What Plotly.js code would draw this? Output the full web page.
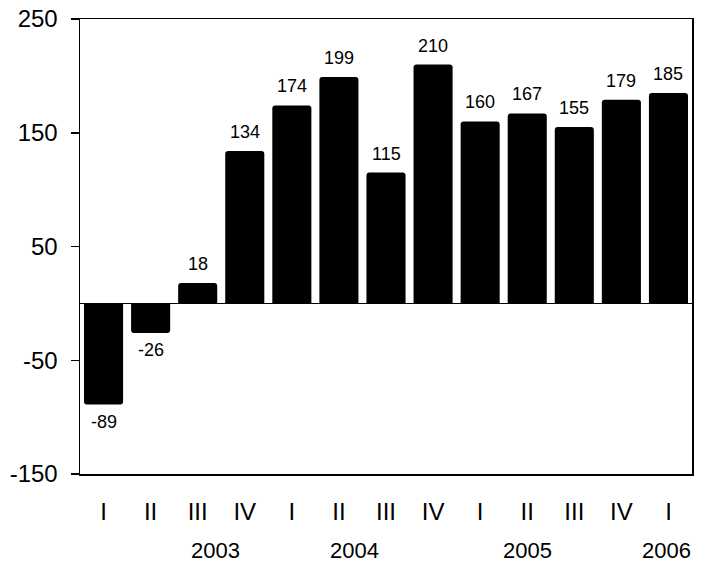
<!DOCTYPE html>
<html>
<head>
<meta charset="utf-8">
<script src="https://cdn.plot.ly/plotly-3.0.1.min.js"></script>
<style>html,body{margin:0;padding:0;background:#fff;}#chart{width:715px;height:564px;}</style>
</head>
<body>
<div id="chart"></div>
<script>
const quarters = ["I","II","III","IV","I","II","III","IV","I","II","III","IV","I"];
const values = [-89, -26, 18, 134, 174, 199, 115, 210, 160, 167, 155, 179, 185];
const years = ["2003","2004","2005","2006"];
const yearPos = [2.37, 5.34, 9.0, 11.96];
const yTicks = [-150, -50, 50, 150, 250];
const yTickText = ["-150", "-50", "50", "150", "250"];

const idx = quarters.map((q, i) => i);
const sans = "'Liberation Sans', Arial, sans-serif";
const annotations = values.map((v, i) => ({
  x: i, y: v, xref: 'x', yref: 'y', text: String(v), showarrow: false,
  yanchor: v >= 0 ? 'bottom' : 'top', yshift: v >= 0 ? 7 : -5,
  font: {family: sans, size: 18, color: '#000'}
})).concat(years.map((y, i) => ({
  x: yearPos[i], y: -0.168, xref: 'x', yref: 'paper', text: y, showarrow: false,
  yanchor: 'middle', font: {family: sans, size: 22, color: '#000'}
})));

Plotly.newPlot('chart', [{
  type: 'bar', x: idx, y: values,
  marker: {color: '#000', cornerradius: 3, line: {width: 0}},
  hoverinfo: 'none'
}], {
  width: 715, height: 564,
  margin: {l: 80, r: 23, t: 19, b: 90},
  paper_bgcolor: '#fff', plot_bgcolor: '#fff',
  bargap: 0.17,
  showlegend: false,
  xaxis: {
    range: [-0.5, 12.5], tickvals: idx, ticktext: quarters,
    showline: true, linecolor: '#000', linewidth: 1.5, mirror: true,
    ticks: '', showgrid: false, zeroline: false,
    ticklabelstandoff: 16,
    tickfont: {family: sans, size: 24, color: '#000'}
  },
  yaxis: {
    range: [-150, 250], tickvals: yTicks, ticktext: yTickText,
    showline: true, linecolor: '#000', linewidth: 1.5, mirror: true,
    ticks: 'outside', ticklen: 8, tickwidth: 1.5, tickcolor: '#000',
    showgrid: false, zeroline: true, zerolinecolor: '#000', zerolinewidth: 1.5,
    ticklabelstandoff: 8,
    tickfont: {family: sans, size: 24, color: '#000'}
  },
  annotations: annotations
}, {staticPlot: true});
</script>
</body>
</html>
